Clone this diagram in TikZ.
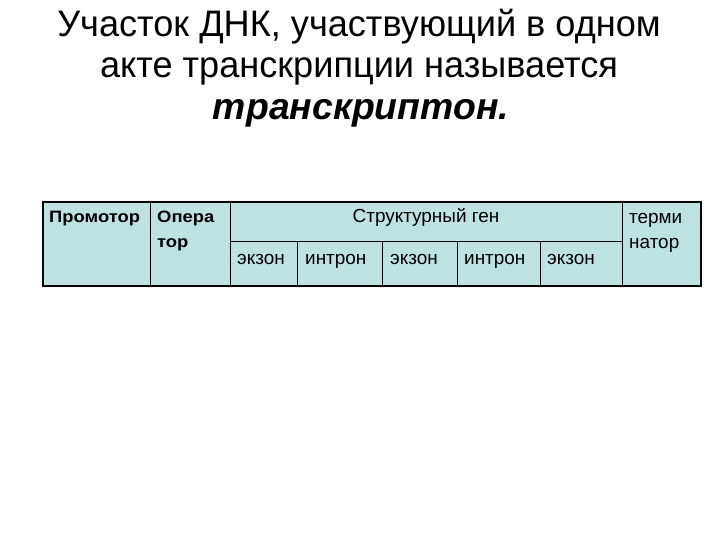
\documentclass[tikz,border=0pt]{standalone}
\usepackage{fontspec}
\setmainfont{Liberation Sans}
\newfontfamily\titlefont[FakeStretch=0.98]{Liberation Sans}
\newfontfamily\widefont[FakeStretch=1.12]{Liberation Sans}
\definecolor{cellfill}{RGB}{190,226,226}
\begin{document}
\begin{tikzpicture}[x=1bp,y=-1bp,
  titletext/.style={anchor=base,inner sep=0pt,font=\titlefont\fontsize{37}{42}\selectfont},
  celltext/.style={anchor=base west,inner sep=0pt,font=\fontsize{19}{22}\selectfont},
  boldcell/.style={anchor=base west,inner sep=0pt,font=\widefont\bfseries\fontsize{16.5}{20}\selectfont},
  innerline/.style={draw=black,line width=0.8pt},
  outerline/.style={draw=black,line width=1.6pt}]
\useasboundingbox (0,0) rectangle (720,540);
% title
\node[titletext] (t1) at (359,37) {Участок ДНК, участвующий в одном};
\node[titletext] (t2) at (359,78) {акте транскрипции называется};
\node[titletext,font=\bfseries\itshape\fontsize{37.5}{42}\selectfont] (t3) at (361,120) {транскриптон.};
% table
\fill[cellfill] (43,202) rectangle (701,286);
\draw[innerline] (150,202) -- (150,286);
\draw[innerline] (230,202) -- (230,286);
\draw[innerline] (622,202) -- (622,286);
\draw[innerline] (230,241) -- (622,241);
\draw[innerline] (297,241) -- (297,286);
\draw[innerline] (382,241) -- (382,286);
\draw[innerline] (457,241) -- (457,286);
\draw[innerline] (540,241) -- (540,286);
\draw[outerline] (43,202) rectangle (701,286);
% cell texts
\node[boldcell] (prom) at (49,223) {Промотор};
\node[boldcell] (op1) at (157,223) {Опера};
\node[boldcell] (op2) at (157,248) {тор};
\node[celltext,anchor=base] (sg) at (426,223) {Структурный ген};
\node[celltext] (e1) at (237,265) {экзон};
\node[celltext] (i1) at (305,265) {интрон};
\node[celltext] (e2) at (390,265) {экзон};
\node[celltext] (i2) at (464,265) {интрон};
\node[celltext] (e3) at (547,265) {экзон};
\node[celltext] (term1) at (629,224) {терми};
\node[celltext] (term2) at (629,249) {натор};
\end{tikzpicture}
\end{document}
